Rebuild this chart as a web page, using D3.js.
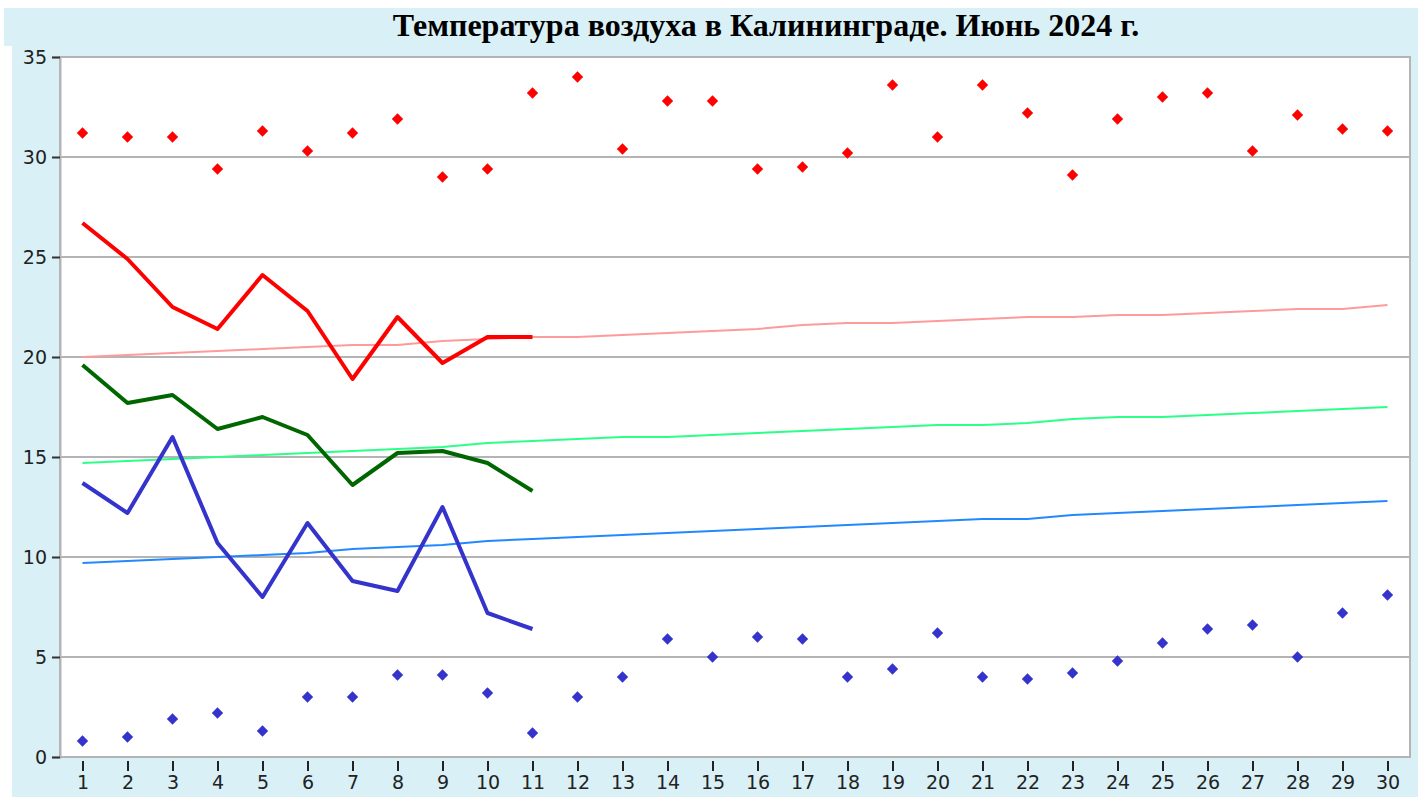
<!DOCTYPE html>
<html>
<head>
<meta charset="utf-8">
<script src="https://cdn.jsdelivr.net/npm/d3@7"></script>
<style>
  body { margin: 0; background: #fff; }
  svg { display: block; }
</style>
</head>
<body>
<svg id="chart"></svg>
<script>
var days = d3.range(1, 31);
var yTicks = [0, 5, 10, 15, 20, 25, 30, 35];
var title = "Температура воздуха в Калининграде. Июнь 2024 г.";

// absolute max / min for each day (diamonds)
var recordMax = [31.2, 31.0, 31.0, 29.4, 31.3, 30.3, 31.2, 31.9, 29.0, 29.4,
                 33.2, 34.0, 30.4, 32.8, 32.8, 29.4, 29.5, 30.2, 33.6, 31.0,
                 33.6, 32.2, 29.1, 31.9, 33.0, 33.2, 30.3, 32.1, 31.4, 31.3];
var recordMin = [0.8, 1.0, 1.9, 2.2, 1.3, 3.0, 3.0, 4.1, 4.1, 3.2,
                 1.2, 3.0, 4.0, 5.9, 5.0, 6.0, 5.9, 4.0, 4.4, 6.2,
                 4.0, 3.9, 4.2, 4.8, 5.7, 6.4, 6.6, 5.0, 7.2, 8.1];

// climate norms
var normMax = [20.0, 20.1, 20.2, 20.3, 20.4, 20.5, 20.6, 20.6, 20.8, 20.9,
               21.0, 21.0, 21.1, 21.2, 21.3, 21.4, 21.6, 21.7, 21.7, 21.8,
               21.9, 22.0, 22.0, 22.1, 22.1, 22.2, 22.3, 22.4, 22.4, 22.6];
var normMean = [14.7, 14.8, 14.9, 15.0, 15.1, 15.2, 15.3, 15.4, 15.5, 15.7,
                15.8, 15.9, 16.0, 16.0, 16.1, 16.2, 16.3, 16.4, 16.5, 16.6,
                16.6, 16.7, 16.9, 17.0, 17.0, 17.1, 17.2, 17.3, 17.4, 17.5];
var normMin = [9.7, 9.8, 9.9, 10.0, 10.1, 10.2, 10.4, 10.5, 10.6, 10.8,
               10.9, 11.0, 11.1, 11.2, 11.3, 11.4, 11.5, 11.6, 11.7, 11.8,
               11.9, 11.9, 12.1, 12.2, 12.3, 12.4, 12.5, 12.6, 12.7, 12.8];

// actual observations, days 1-11
var factMax = [26.7, 24.9, 22.5, 21.4, 24.1, 22.3, 18.9, 22.0, 19.7, 21.0, 21.0];
var factMean = [19.6, 17.7, 18.1, 16.4, 17.0, 16.1, 13.6, 15.2, 15.3, 14.7, 13.3];
var factMin = [13.7, 12.2, 16.0, 10.7, 8.0, 11.7, 8.8, 8.3, 12.5, 7.2, 6.4];

var W = 1418, H = 797;
var plot = { left: 60, right: 1410, top: 57, bottom: 757 };

var svg = d3.select('#chart').attr('width', W).attr('height', H);

// backgrounds
svg.append('rect').attr('x', 4).attr('y', 8).attr('width', W - 4).attr('height', 38).attr('fill', '#d9f0f6');
svg.append('rect').attr('x', 12).attr('y', 45).attr('width', W - 12).attr('height', H - 45).attr('fill', '#d9f0f6');
svg.append('rect')
    .attr('x', plot.left).attr('y', plot.top)
    .attr('width', plot.right - plot.left).attr('height', plot.bottom - plot.top)
    .attr('fill', '#fff').attr('stroke', '#b4b4b4').attr('stroke-width', 2);

svg.append('text')
    .attr('x', 766).attr('y', 36)
    .attr('text-anchor', 'middle')
    .style('font-family', '"Liberation Serif", "Times New Roman", serif')
    .style('font-weight', 'bold')
    .style('font-size', '32px')
    .text(title);

var x = d3.scalePoint().domain(days).range([plot.left, plot.right]).padding(0.5),
    y = d3.scaleLinear().domain([0, 35]).range([plot.bottom, plot.top]);

// grid
svg.append('g').selectAll('line')
    .data(yTicks.slice(1, -1))
  .enter().append('line')
    .attr('x1', plot.left).attr('x2', plot.right)
    .attr('y1', function(d) { return y(d); }).attr('y2', function(d) { return y(d); })
    .attr('stroke', '#b4b4b4').attr('stroke-width', 2);

// y axis
var yAxis = svg.append('g')
    .attr('transform', 'translate(' + plot.left + ',0)')
    .call(d3.axisLeft(y).tickValues(yTicks).tickSize(8).tickPadding(5));
yAxis.select('.domain').attr('stroke', '#b4b4b4').attr('stroke-width', 2);
yAxis.selectAll('.tick line').attr('stroke', '#333').attr('stroke-width', 2)
    .attr('x2', -8).attr('x1', 0);

// x axis
var xAxis = svg.append('g')
    .attr('transform', 'translate(0,' + (plot.bottom + 1) + ')')
    .call(d3.axisBottom(x).tickSize(13).tickPadding(5));
xAxis.select('.domain').remove();
xAxis.selectAll('.tick line').attr('stroke', '#222').attr('stroke-width', 2).attr('y1', 3);

svg.selectAll('.tick text')
    .style('font-family', '"DejaVu Sans", Verdana, sans-serif')
    .style('font-size', '19px')
    .attr('fill', '#222');

// norm lines
var norms = [
  { values: normMax, color: '#ff9a9a' },
  { values: normMean, color: '#2cff88' },
  { values: normMin, color: '#2288ff' }
];
var line = d3.line()
    .x(function(d, i) { return x(days[i]); })
    .y(function(d) { return y(d); });

norms.forEach(function(n) {
  svg.append('path')
      .attr('d', line(n.values))
      .attr('fill', 'none')
      .attr('stroke', n.color)
      .attr('stroke-width', 2);
});

// actual lines
var facts = [
  { values: factMax, color: '#ff0000' },
  { values: factMean, color: '#006600' },
  { values: factMin, color: '#3434cc' }
];
facts.forEach(function(f) {
  svg.append('path')
      .attr('d', line(f.values))
      .attr('fill', 'none')
      .attr('stroke', f.color)
      .attr('stroke-width', 4)
      .attr('stroke-linejoin', 'round');
});

// record diamonds
var diamond = d3.symbol().type(d3.symbolSquare).size(64);
[{ values: recordMax, color: '#ff0000' }, { values: recordMin, color: '#3434cc' }].forEach(function(s) {
  svg.append('g').selectAll('path')
      .data(s.values)
    .enter().append('path')
      .attr('d', diamond)
      .attr('transform', function(d, i) {
        return 'translate(' + x(days[i]) + ',' + y(d) + ') rotate(45)';
      })
      .attr('fill', s.color);
});
</script>
</body>
</html>
